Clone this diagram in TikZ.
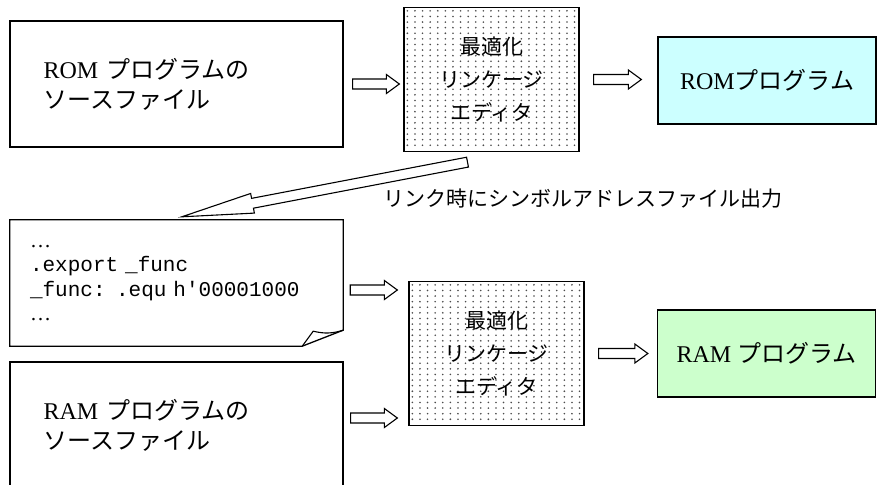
\documentclass[tikz,border=0pt]{standalone}
\usepackage{fontspec}
\setmainfont{Liberation Serif}
\setmonofont{Liberation Mono}
\newfontfamily\jpfont{Noto Sans CJK JP}
\usetikzlibrary{calc,backgrounds}

% hollow block arrow: from, to, half shaft, half head, head length
\newcommand{\hollowarrow}[5]{%
  \coordinate (ha-h) at ($(#2)!#5!(#1)$);
  \draw[hollow] ($(#1)!#3!90:(#2)$) -- ($(ha-h)!#3!-90:(#1)$)
    -- ($(ha-h)!#4!-90:(#1)$) -- (#2) -- ($(ha-h)!#4!90:(#1)$)
    -- ($(ha-h)!#3!90:(#1)$) -- ($(#1)!#3!-90:(#2)$) -- cycle;
}

\begin{document}
\begin{tikzpicture}[x=1pt, y=-1pt,
	box/.style={draw, line width=1.3pt, inner sep=0pt},
	srcbox/.style={box, minimum width=333pt, minimum height=126pt,
		text width=266pt, align=left, font=\fontsize{24}{30}\selectfont},
	linker/.style={box, minimum width=175pt, minimum height=144pt, align=center,
		font=\jpfont\fontsize{21}{33}\selectfont},
	prog/.style={box, minimum width=218pt, minimum height=87pt,
		font=\fontsize{24}{29}\selectfont},
	dot/.style={fill=black!70},
	hollow/.style={draw=black, fill=white, line width=1.1pt, line join=miter},
	]
	\definecolor{romcyan}{RGB}{204,255,255}
	\definecolor{ramgreen}{RGB}{204,255,204}
	\useasboundingbox (0,0) rectangle (877,484);
	
	% Source files
	\node[srcbox] (romsrc) at (176.5,84) {ROM {\jpfont プログラムの}\\{\jpfont ソースファイル}};
	\node[srcbox] (ramsrc) at (176.5,425) {RAM {\jpfont プログラムの}\\{\jpfont ソースファイル}};
	
	% Linkers
	\node[linker] (opt1) at (491.5,79.5) {最適化\\リンケージ\\エディタ};
	\node[linker] (opt2) at (496.5,353.5) {最適化\\リンケージ\\エディタ};
	
	% Dot screen behind the linkers
	\begin{scope}[on background layer]
		\foreach \n in {opt1,opt2}
		\foreach \i in {0,...,22}
		\foreach \j in {0,...,24}
		\fill[dot] ($(\n.north west)+(4+7.6*\i,4+5.6*\j)$) circle (0.9pt);
	\end{scope}
	
	% Programs
	\node[prog, fill=romcyan] (rom) at (767,80.5) {ROM{\jpfont プログラム}};
	\node[prog, fill=ramgreen] (ram) at (766.5,353.5) {RAM {\jpfont プログラム}};
	
	% Symbol address file
	\node[minimum width=333pt, minimum height=126pt, inner sep=0pt,
		text width=293pt, align=left, font=\ttfamily\fontsize{21}{24.3}\selectfont]
		(exp) at (176.5,283) {{\rmfamily …}\\.export \_func\\\_func: .equ h'00001000\\{\rmfamily …}};
	\draw[line width=1.3pt, line join=miter] (exp.north west) -- (exp.north east)
		-- ([yshift=16pt]exp.south east) -- ([xshift=-41pt]exp.south east)
		-- (exp.south west) -- cycle;
	\draw[line width=1.1pt] ([xshift=-41pt]exp.south east) -- ([xshift=-30pt,yshift=15pt]exp.south east)
		to[bend right=15] ([yshift=16pt]exp.south east);
	
	% Arrow ends
	\coordinate (a1s) at ([xshift=9pt]romsrc.east);
	\coordinate (a1e) at ([xshift=-4pt]opt1.west |- a1s);
	\coordinate (a2s) at ([xshift=14pt]opt1.east);
	\coordinate (a2e) at ([xshift=-16pt]rom.west |- a2s);
	\coordinate (a3s) at ([xshift=7pt,yshift=-7pt]exp.east);
	\coordinate (a3e) at ([xshift=-11pt]opt2.west |- a3s);
	\coordinate (a4s) at ([xshift=7pt,yshift=7pt]ramsrc.east);
	\coordinate (a4e) at ([xshift=-11pt]opt2.west |- a4s);
	\coordinate (a5s) at ([xshift=14pt]opt2.east);
	\coordinate (a5e) at ([xshift=-9pt]ram.west |- a5s);
	\coordinate (ds) at ($(opt1.south)+(-24,10)$);
	\coordinate (de) at ($(exp.north west)+(172,-3)$);
	
	% Arrows
	\hollowarrow{a1s}{a1e}{5pt}{9.5pt}{13pt}
	\hollowarrow{a2s}{a2e}{5pt}{9.5pt}{13pt}
	\hollowarrow{a3s}{a3e}{5pt}{9.5pt}{13pt}
	\hollowarrow{a4s}{a4e}{5pt}{9.5pt}{13pt}
	\hollowarrow{a5s}{a5e}{5pt}{9.5pt}{13pt}
	\hollowarrow{ds}{de}{5pt}{10pt}{72pt}
	
	\node[anchor=west, font=\jpfont\fontsize{21}{25}\selectfont] (lbl) at (380,199)
		{リンク時にシンボルアドレスファイル出力};
\end{tikzpicture}
\end{document}
